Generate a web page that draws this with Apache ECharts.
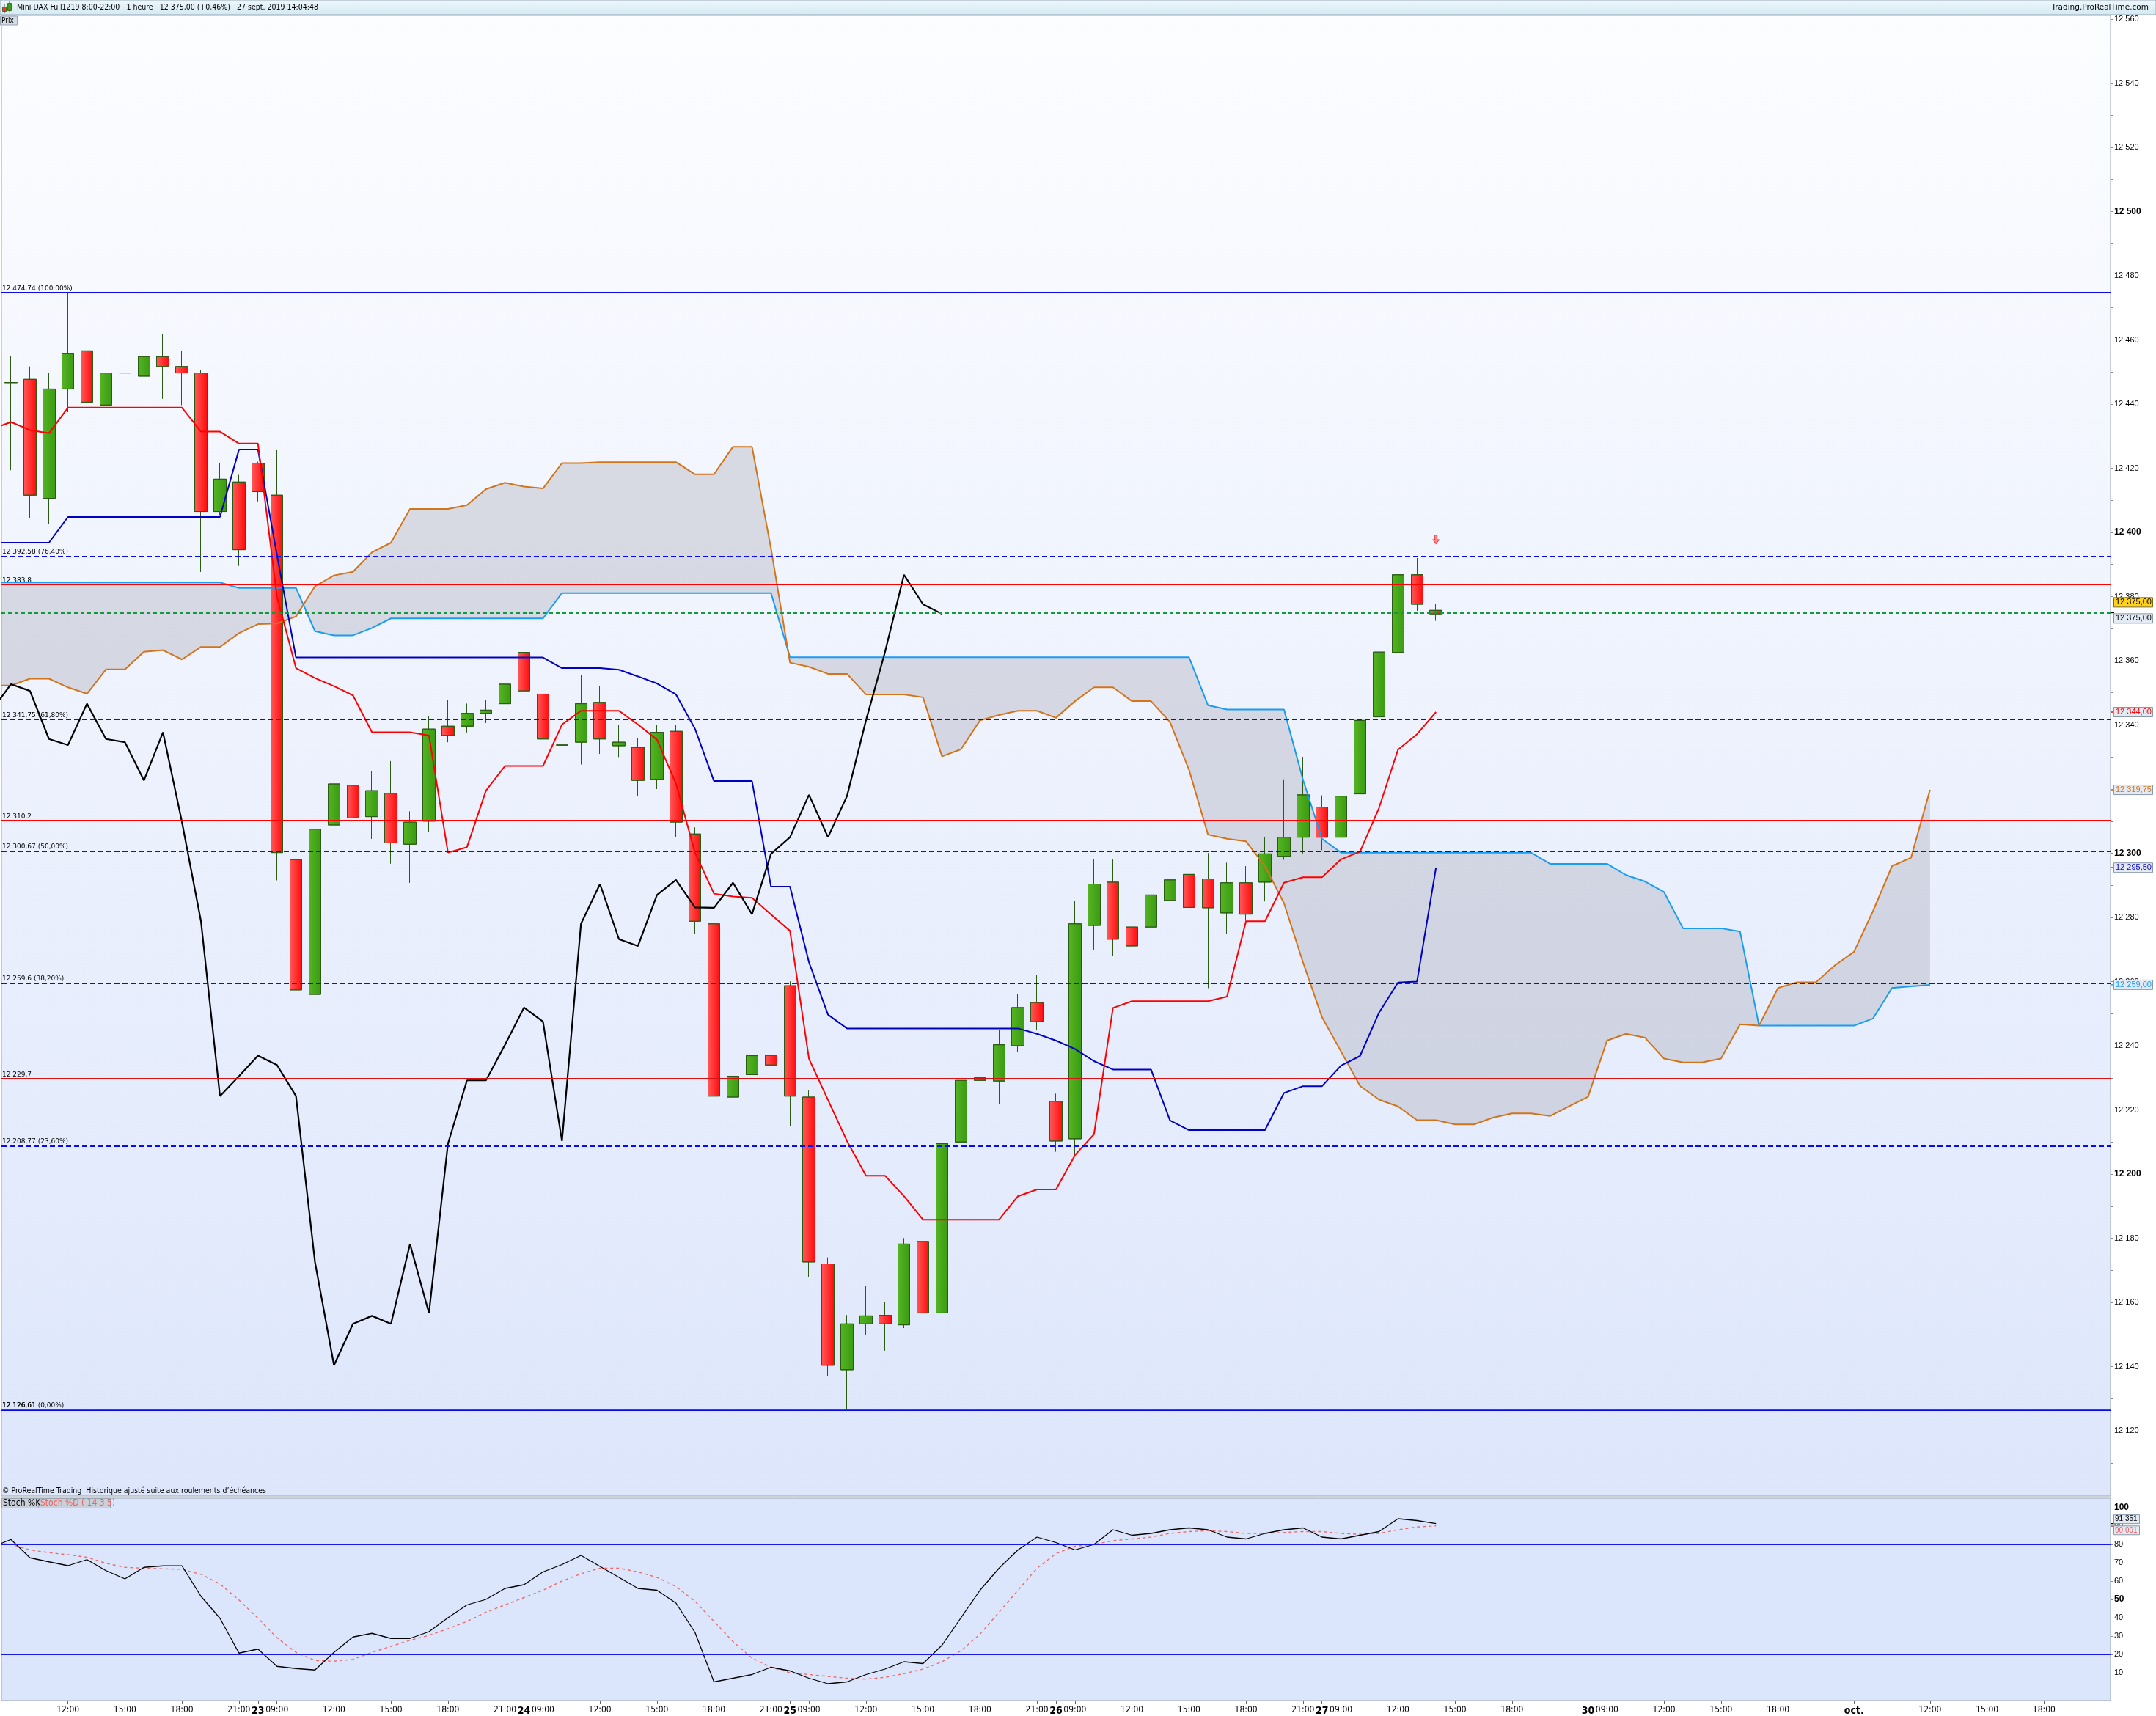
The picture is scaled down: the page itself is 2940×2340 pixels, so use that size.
<!DOCTYPE html>
<html><head><meta charset="utf-8">
<script src="https://cdn.jsdelivr.net/npm/echarts@6/dist/echarts.min.js"></script>
<style>html,body{margin:0;padding:0;background:#fff;}#c{width:2940px;height:2340px;}</style>
</head><body><div id="c"></div>
<script>
// ---------- time categories (1h bars, 8:00-21:00); first bar = 20 sept. 09:00 ----------
const dayNames = ['20','23','24','25','26','27','30','oct.'];
const categories = [], barDay = [], barHour = [];
dayNames.forEach(function (d, k) {
  for (let h = (k === 0 ? 9 : 8); h <= 21; h++) {
    categories.push(d + ' ' + (h < 10 ? '0' + h : h) + ':00');
    barDay.push(k); barHour.push(h);
  }
});

// ---------- candles: bar 0 = 20 sept. 09:00 ... bar 75 = 27 sept. 14:00 ----------
const open  = [12446.7,12447.7,12410.6,12444.7,12456.6,12439.7,12449.7,12448.7,12454.8,12451.7,
               12449.7,12406.5,12415.7,12421.6,12411.6,12298.0,12256.0,12308.8,12321.2,12311.4,
               12318.7,12302.8,12310.0,12339.6,12339.6,12343.6,12346.6,12362.6,12349.6,12333.7,
               12334.6,12347.0,12333.5,12333.0,12323.0,12338.0,12306.0,12278.0,12224.0,12231.0,
               12237.0,12258.7,12224.0,12172.0,12139.0,12153.3,12156.0,12153.0,12179.0,12156.7,
               12210.0,12230.0,12229.0,12240.0,12253.5,12222.7,12211.0,12277.5,12291.0,12277.0,
               12277.0,12285.3,12293.4,12292.0,12281.4,12290.8,12291.0,12299.0,12305.0,12314.4,
               12305.0,12318.5,12342.5,12362.6,12386.8,12375.7];
const close = [12446.7,12411.6,12444.7,12455.7,12440.6,12449.7,12449.7,12454.8,12451.7,12449.7,
               12406.5,12416.6,12394.6,12412.7,12300.2,12257.4,12307.5,12321.6,12311.0,12319.5,
               12303.2,12309.7,12338.7,12336.7,12343.6,12344.6,12352.7,12350.6,12335.6,12333.7,
               12346.6,12335.6,12334.6,12322.7,12337.7,12309.7,12278.8,12224.3,12230.5,12236.9,
               12234.0,12224.3,12172.6,12140.4,12153.3,12155.8,12153.3,12178.2,12156.7,12209.5,
               12229.2,12229.2,12240.3,12251.9,12247.5,12210.3,12278.0,12290.4,12273.2,12271.1,
               12287.0,12291.7,12283.1,12283.0,12290.8,12281.0,12299.8,12305.0,12318.2,12305.0,
               12317.8,12341.4,12362.7,12386.8,12377.6,12374.6];
const low   = [12419.4,12404.6,12402.6,12437.5,12432.5,12433.6,12441.7,12442.7,12441.7,12439.7,
               12387.7,12405.5,12389.6,12409.7,12291.6,12248.0,12254.0,12304.6,12310.0,12304.5,
               12296.8,12290.8,12306.7,12334.6,12337.7,12340.6,12337.7,12340.6,12331.6,12324.6,
               12327.7,12331.0,12330.0,12318.0,12320.0,12305.0,12275.0,12218.0,12218.0,12226.0,
               12215.0,12215.0,12168.0,12137.0,12126.6,12150.0,12145.0,12152.0,12150.0,12128.0,
               12200.0,12225.0,12222.0,12238.0,12245.0,12207.0,12206.0,12270.0,12268.0,12266.0,
               12270.0,12278.0,12268.0,12258.0,12275.0,12279.0,12285.0,12298.0,12300.0,12301.0,
               12304.0,12315.4,12335.5,12352.6,12375.6,12372.5];
const high  = [12454.9,12451.7,12449.7,12474.7,12464.7,12456.6,12457.9,12467.9,12461.7,12456.6,
               12450.7,12421.6,12417.9,12422.0,12425.8,12303.6,12313.0,12334.5,12328.7,12325.7,
               12328.7,12313.0,12342.7,12347.7,12346.6,12347.7,12356.6,12364.7,12359.7,12357.7,
               12355.6,12352.0,12340.0,12336.0,12340.0,12340.0,12308.0,12280.0,12240.0,12270.0,
               12258.0,12260.0,12226.0,12174.0,12156.0,12165.0,12160.0,12180.0,12190.0,12212.0,
               12236.0,12240.0,12245.0,12256.0,12262.0,12225.0,12285.0,12298.0,12298.0,12282.0,
               12293.0,12298.0,12299.0,12300.0,12297.0,12296.0,12305.0,12323.0,12330.0,12318.0,
               12335.0,12345.5,12371.6,12390.6,12392.0,12377.6];

// ---------- Ichimoku: element 0 = bar -1 (20 sept. 08:00, off the left edge) ----------
const tenkan = [12432.2,
                12434.4,12431.9,12430.9,12438.9,12438.9,12438.9,12438.9,12438.9,12438.9,12438.9,
                12431.4,12431.4,12427.7,12427.7,12380.0,12357.7,12354.6,12352.1,12349.2,12337.7,
                12337.7,12337.7,12336.7,12300.2,12301.9,12319.5,12327.2,12327.2,12327.2,12340.1,
                12344.4,12344.4,12344.4,12340.1,12335.4,12321.7,12300.2,12287.4,12286.5,12286.1,
                12280.9,12275.8,12235.9,12223.1,12210.3,12199.5,12199.5,12193.1,12185.8,12185.8,
                12185.8,12185.8,12185.8,12193.1,12195.2,12195.2,12205.9,12212.4,12251.8,12253.9,
                12253.9,12253.9,12253.9,12253.9,12255.3,12278.8,12278.8,12290.8,12292.5,12292.5,
                12298.1,12300.5,12314.1,12332.3,12337.1,12344.0];
const kijun  = [12396.8,
                12396.8,12396.8,12396.8,12404.8,12404.8,12404.8,12404.8,12404.8,12404.8,12404.8,
                12404.8,12404.8,12425.8,12425.8,12393.0,12361.0,12361.0,12361.0,12361.0,12361.0,
                12361.0,12361.0,12361.0,12361.0,12361.0,12361.0,12361.0,12361.0,12361.0,12357.7,
                12357.7,12357.7,12357.2,12355.1,12352.9,12349.5,12338.8,12322.5,12322.5,12322.5,
                12289.6,12289.6,12266.0,12249.7,12245.4,12245.4,12245.4,12245.4,12245.4,12245.4,
                12245.4,12245.4,12245.4,12245.4,12243.7,12241.6,12239.0,12235.2,12232.6,12232.6,
                12232.6,12216.7,12213.7,12213.7,12213.7,12213.7,12213.7,12225.3,12227.4,12227.4,
                12233.8,12236.8,12250.3,12259.7,12260.0,12295.5];
const senkouA = [12384.4,
                 12384.4,12384.4,12384.4,12384.4,12384.4,12384.4,12384.4,12384.4,12384.4,12384.4,
                 12384.4,12384.4,12382.7,12382.7,12382.7,12382.7,12369.2,12367.9,12367.9,12370.2,
                 12373.2,12373.2,12373.2,12373.2,12373.2,12373.2,12373.2,12373.2,12373.2,12381.1,
                 12381.1,12381.1,12381.1,12381.1,12381.1,12381.1,12381.1,12381.1,12381.1,12381.1,
                 12381.1,12361.1,12361.1,12361.1,12361.1,12361.1,12361.1,12361.1,12361.1,12361.1,
                 12361.1,12361.1,12361.1,12361.1,12361.1,12361.1,12361.1,12361.1,12361.1,12361.1,
                 12361.1,12361.1,12361.1,12346.1,12344.8,12344.8,12344.8,12344.8,12322.9,12304.5,
                 12300.2,12300.2,12300.2,12300.2,12300.2,12300.2,12300.2,12300.2,12300.2,12300.2,
                 12300.2,12296.7,12296.7,12296.7,12296.7,12293.2,12291.2,12287.9,12276.6,12276.6,
                 12276.6,12275.6,12246.3,12246.3,12246.3,12246.3,12246.3,12246.3,12248.5,12258.0,
                 12258.5,12259.0];
const senkouB = [12352.3,
                 12352.3,12354.4,12354.4,12351.7,12349.7,12357.3,12357.3,12362.8,12363.3,12360.4,
                 12364.3,12364.3,12368.6,12371.4,12371.6,12373.8,12383.2,12386.6,12387.7,12393.8,
                 12396.8,12407.3,12407.3,12407.3,12408.5,12413.5,12415.5,12414.3,12413.7,12421.6,
                 12421.6,12421.9,12421.9,12421.9,12421.9,12421.9,12418.1,12418.1,12426.7,12426.7,
                 12395.0,12359.4,12358.1,12355.9,12355.9,12349.5,12349.5,12349.5,12348.6,12330.2,
                 12332.4,12341.4,12343.1,12344.4,12344.4,12342.2,12347.4,12351.7,12351.7,12347.4,
                 12347.4,12340.9,12326.0,12305.8,12304.5,12303.7,12296.0,12284.4,12266.0,12248.9,
                 12238.2,12227.5,12223.2,12221.1,12216.8,12216.8,12215.5,12215.5,12217.6,12218.9,
                 12218.9,12218.1,12221.1,12224.1,12241.6,12243.7,12242.5,12236.0,12234.8,12234.8,
                 12236.0,12246.7,12246.3,12258.0,12259.8,12259.8,12265.1,12269.3,12282.0,12296.0,
                 12298.6,12319.75];

// ---------- Stochastic (14 3 5): element 0 = bar -1 ----------
const stochK = [78.5,
                82.7,72.7,70.5,68.4,71.7,65.7,61.2,67.5,68.3,68.3,51.7,39.7,20.7,22.9,13.5,12.3,11.5,21.1,29.5,31.5,
                28.7,28.7,32.4,40,47,50,56,58,65,69,74,68,62,56,55,48,32,5,7,9,
                13,11,7,4,5,9,12,16,15,25,40,55,67,77,84,81,77,80,88,85,
                86,88,89,88,84,83,86,88,89,84,83,85,87,94,93,91.351];
const stochD = [81,
                80,77,75.5,74.4,73,69.7,67.5,67,66.7,66.4,63.7,58.4,49.7,39.7,29.1,21.1,16.7,16.3,17.3,21.1,
                24.4,27.7,30.4,34,38,43,47,51,55,60,64,67,67,65,62,57,49,38,27,18,
                13,10,9,8,7,6.5,7.5,9.5,12,16,22,31,43,55,67,75,79,80,82,83,
                84,86,87,87.5,87,86,86,86.5,87,87,86,85.5,86,88,89.5,90.091];

// ---------- horizontal levels ----------
const fibLevels = [12474.74, 12392.58, 12341.75, 12300.67, 12259.6, 12208.77, 12126.61];
const fibTexts  = ['12 474,74 (100,00%)', '12 392,58 (76,40%)', '12 341,75 (61,80%)', '12 300,67 (50,00%)',
                   '12 259,6 (38,20%)', '12 208,77 (23,60%)', '12 126,61 (0,00%)'];
const redLevels = [12383.8, 12310.2, 12229.7, 12126.6];
const redTexts  = ['12 383,8', '12 310,2', '12 229,7', '12 126,6'];
const lastPrice = 12375;
const signalArrow = [[75, 12397.8]];

// right-axis tags
const priceTags = [
  {v: 12375,    t: '12 375,00', c: '#000000', bg: '#ffd21e', bd: '#7a6a20', dy: -14},
  {v: 12375,    t: '12 375,00', c: '#000000', bg: '#e4eaf4', bd: '#8898a8', dy: 8},
  {v: 12344,    t: '12 344,00', c: '#ff0000', bg: '#e4eaf4', bd: '#8898a8', dy: 0},
  {v: 12319.75, t: '12 319,75', c: '#d2741a', bg: '#e4eaf4', bd: '#8898a8', dy: 0},
  {v: 12295.5,  t: '12 295,50', c: '#0000c8', bg: '#e4eaf4', bd: '#8898a8', dy: 0},
  {v: 12259,    t: '12 259,00', c: '#1a9cf0', bg: '#e4eaf4', bd: '#8898a8', dy: 0}
];
const stochTags = [
  {v: 91.351, t: '91,351', c: '#000000', dy: -6},
  {v: 90.091, t: '90,091', c: '#f06060', dy: 6}
];

// ---------- draw arrays ----------
const N = categories.length;
function pad(arr) { const out = arr.slice(); while (out.length < N) out.push('-'); return out; }
function xy(arr) { return arr.map(function (v, k) { return [k - 1, v]; }); }   // element k -> bar k-1
const candleData = open.map(function (o, i) { return [o, close[i], low[i], high[i]]; });
const chikouXY = [];                       // close shifted 26 bars back, from bar -1
for (let b = -1; b + 26 < close.length; b++) chikouXY.push([b, close[b + 26]]);

function thou(v) { const s = String(Math.round(v)); return s.slice(0, s.length - 3) + ' ' + s.slice(-3); }
const yPriceLabels = [], yPriceTicks = [];
for (let v = 12120; v <= 12560; v += 20) yPriceLabels.push(v);
for (let v = 12110; v <= 12560; v += 10) yPriceTicks.push(v);
const stochLabels = [10,20,30,40,50,60,70,80,90,100];

function xLabel(i) {
  const h = barHour[i], d = barDay[i];
  if (h === 12 || h === 15 || h === 18) return h + ':00';
  if (h === 21 && d <= 4) return '21:00';
  if (h === 8 && d > 0) return '{b|' + dayNames[d] + '}';
  if (h === 9 && d >= 1 && d <= 6) return '09:00';
  return '';
}
const xLabels = categories.map(function (c, i) { return xLabel(i); });

// ---------- chart ----------
const chart = echarts.init(document.getElementById('c'), null, {renderer: 'canvas'});
const FONT = 'Liberation Sans, Arial, sans-serif';
const NARROW = 'Liberation Sans Narrow, DejaVu Sans Condensed, Arial, sans-serif';
const SMALL = 'DejaVu Sans, Verdana, sans-serif';

const levelMarks = [];
fibLevels.forEach(function (v, k) {
  const solid = (k === 0 || k === fibLevels.length - 1);
  levelMarks.push({yAxis: v,
    lineStyle: {color: '#0a0af0', width: k === fibLevels.length - 1 ? 3 : 2, type: solid ? 'solid' : [7, 4]},
    label: {show: true, position: 'insideStartTop', distance: [1, 1], formatter: fibTexts[k],
            color: '#000', fontSize: 9, fontFamily: SMALL}});
});
redLevels.forEach(function (v, k) {
  levelMarks.push({yAxis: v,
    lineStyle: {color: k === 2 ? '#d81010' : '#ff0000', width: 2, type: 'solid'},
    label: {show: true, position: 'insideStartTop', distance: [1, 1], formatter: redTexts[k],
            color: '#000', fontSize: 9, fontFamily: SMALL}});
});
levelMarks.push({yAxis: lastPrice, lineStyle: {color: '#129a3a', width: 2, type: [5, 4]}, label: {show: false}});

// Kumo (cloud) between the two Senkou spans, drawn through the axis scales
function renderCloud(params, api) {
  const pts = [];
  for (let k = 0; k < senkouA.length; k++) pts.push(api.coord([k - 1, senkouA[k]]));
  for (let k = senkouB.length - 1; k >= 0; k--) pts.push(api.coord([k - 1, senkouB[k]]));
  return {type: 'polygon', shape: {points: pts}, style: {fill: 'rgba(165,165,175,0.34)', stroke: null}};
}

const option = {
  animation: false,
  textStyle: {fontFamily: FONT},
  grid: [
    {left: 2, right: 62, top: 21, height: 2019, show: true, borderColor: '#9aa6b2', borderWidth: 1,
     backgroundColor: new echarts.graphic.LinearGradient(0, 0, 0, 1, [{offset: 0, color: '#fcfdff'}, {offset: 1, color: '#dde6fb'}])},
    {left: 2, right: 62, top: 2043, height: 276, show: true, borderColor: '#9aa6b2', borderWidth: 1,
     backgroundColor: '#dbe5fb'}
  ],
  xAxis: [
    {type: 'category', gridIndex: 0, data: categories, boundaryGap: true,
     axisLine: {show: false}, axisTick: {show: false}, axisLabel: {show: false}, splitLine: {show: false}},
    {type: 'category', gridIndex: 1, data: categories, boundaryGap: true, position: 'bottom',
     axisLine: {show: true, onZero: false, lineStyle: {color: '#9aa6b2'}},
     axisTick: {show: true, alignWithLabel: true, length: 4, lineStyle: {color: '#666'},
                interval: function (i) { return xLabels[i] !== ''; }},
     axisLabel: {show: true, margin: 7, fontSize: 12, fontFamily: NARROW, color: '#000',
                 interval: function (i) { return xLabels[i] !== ''; },
                 formatter: function (v, i) { return xLabels[i]; },
                 rich: {b: {fontSize: 14, fontWeight: 'bold', fontFamily: NARROW, color: '#000'}}},
     splitLine: {show: false}},
    {type: 'value', gridIndex: 0, min: -0.5, max: 110.5, show: false, axisLine: {onZero: false}, splitLine: {show: false}},
    {type: 'value', gridIndex: 1, min: -0.5, max: 110.5, show: false, axisLine: {onZero: false}, splitLine: {show: false}}
  ],
  yAxis: [
    {type: 'value', gridIndex: 0, position: 'right', min: 12099.66, max: 12561.14, scale: true,
     axisLine: {show: true, onZero: false, lineStyle: {color: '#9aa6b2'}},
     axisTick: {show: true, length: 4, lineStyle: {color: '#888'}, customValues: yPriceTicks},
     axisLabel: {show: true, margin: 5, fontSize: 11, color: '#000', fontFamily: FONT,
                 customValues: yPriceLabels,
                 formatter: function (v) { return (Math.round(v) % 100 === 0) ? '{b|' + thou(v) + '}' : thou(v); },
                 rich: {b: {fontSize: 12, fontWeight: 'bold', color: '#000', fontFamily: FONT}}},
     splitLine: {show: false}},
    {type: 'value', gridIndex: 1, position: 'right', min: -5.2, max: 105.2,
     axisLine: {show: true, onZero: false, lineStyle: {color: '#9aa6b2'}},
     axisTick: {show: true, length: 4, lineStyle: {color: '#888'}, customValues: stochLabels},
     axisLabel: {show: true, margin: 5, fontSize: 11, color: '#000', fontFamily: FONT,
                 customValues: stochLabels,
                 formatter: function (v) { return (v === 50 || v === 100) ? '{b|' + v + '}' : String(v); },
                 rich: {b: {fontSize: 12, fontWeight: 'bold', color: '#000', fontFamily: FONT}}},
     splitLine: {show: false}}
  ],
  series: [
    {name: 'Kumo', type: 'custom', xAxisIndex: 2, yAxisIndex: 0, data: [[0, 12300]], renderItem: renderCloud,
     clip: true, silent: true, z: 1},
    {name: 'candles', type: 'candlestick', xAxisIndex: 0, yAxisIndex: 0, data: pad(candleData), barWidth: 17, z: 2,
     itemStyle: {
       color: new echarts.graphic.LinearGradient(0, 0, 1, 0, [{offset: 0, color: '#55b522'}, {offset: 1, color: '#3a9a12'}]),
       color0: new echarts.graphic.LinearGradient(0, 0, 1, 0, [{offset: 0, color: '#ff5a5a'}, {offset: 1, color: '#ff0a0a'}]),
       borderColor: '#2c5c14', borderColor0: '#2c5c14', borderWidth: 1},
     markLine: {silent: true, symbol: ['none', 'none'], animation: false, z: 5, data: levelMarks}},
    {name: 'SSA', type: 'line', xAxisIndex: 2, yAxisIndex: 0, data: xy(senkouA), symbol: 'none',
     lineStyle: {color: '#1a9cf0', width: 2}, z: 3},
    {name: 'SSB', type: 'line', xAxisIndex: 2, yAxisIndex: 0, data: xy(senkouB), symbol: 'none',
     lineStyle: {color: '#d2741a', width: 2}, z: 3},
    {name: 'Kijun', type: 'line', xAxisIndex: 2, yAxisIndex: 0, data: xy(kijun), symbol: 'none',
     lineStyle: {color: '#0000c0', width: 2}, z: 4},
    {name: 'Tenkan', type: 'line', xAxisIndex: 2, yAxisIndex: 0, data: xy(tenkan), symbol: 'none',
     lineStyle: {color: '#ff0000', width: 2}, z: 4},
    {name: 'Chikou', type: 'line', xAxisIndex: 2, yAxisIndex: 0, data: chikouXY, symbol: 'none',
     lineStyle: {color: '#000000', width: 2.2}, z: 4},
    {name: 'arrow', type: 'scatter', xAxisIndex: 2, yAxisIndex: 0, data: signalArrow,
     symbol: 'path://M3,0 L7,0 L7,7 L10,7 L5,13 L0,7 L3,7 Z', symbolSize: [8, 12],
     itemStyle: {color: '#ff6a6a', borderColor: '#d01818', borderWidth: 1}, z: 6},
    {name: 'Stoch %K', type: 'line', xAxisIndex: 3, yAxisIndex: 1, data: xy(stochK), symbol: 'none',
     lineStyle: {color: '#000', width: 1.3}, z: 4,
     markLine: {silent: true, symbol: ['none', 'none'], label: {show: false},
                data: [{yAxis: 80}, {yAxis: 20}], lineStyle: {color: '#1a1ae6', width: 1.2, type: 'solid'}}},
    {name: 'Stoch %D', type: 'line', xAxisIndex: 3, yAxisIndex: 1, data: xy(stochD), symbol: 'none',
     lineStyle: {color: '#f06a6a', width: 1.4, type: [4, 4]}, z: 3}
  ]
};
chart.setOption(option);

// ---------- overlays positioned through the axes ----------
const g = [];
// header bar
g.push({type: 'rect', shape: {x: 0, y: 0, width: 2940, height: 20},
        style: {fill: new echarts.graphic.LinearGradient(0, 0, 0, 1, [{offset: 0, color: '#eef8fc'}, {offset: 1, color: '#d4e9f2'}]), stroke: '#97a7b7', lineWidth: 1}});
g.push({type: 'line', shape: {x1: 6, y1: 6, x2: 6, y2: 18}, style: {stroke: '#2c5c14', lineWidth: 1}});
g.push({type: 'rect', shape: {x: 3.5, y: 9.5, width: 5, height: 6}, style: {fill: '#ff3030', stroke: '#2c5c14', lineWidth: 0.8}});
g.push({type: 'line', shape: {x1: 13, y1: 2, x2: 13, y2: 17}, style: {stroke: '#2c5c14', lineWidth: 1}});
g.push({type: 'rect', shape: {x: 10.5, y: 4.5, width: 5, height: 10}, style: {fill: '#3aa012', stroke: '#2c5c14', lineWidth: 0.8}});
g.push({type: 'text', x: 23, y: 10.5, style: {text: 'Mini DAX Full1219 8:00-22:00   1 heure   12 375,00 (+0,46%)   27 sept. 2019 14:04:48',
        fill: '#000', font: '10.5px ' + NARROW, textVerticalAlign: 'middle'}});
g.push({type: 'text', x: 2930, y: 10.5, style: {text: 'Trading.ProRealTime.com', fill: '#000', font: '10.5px ' + SMALL,
        textAlign: 'right', textVerticalAlign: 'middle'}});
// Prix tab
g.push({type: 'rect', shape: {x: 0.5, y: 22, width: 23, height: 12}, style: {fill: '#d7dde6', stroke: '#98a4b0', lineWidth: 1}, z: 31});
g.push({type: 'text', x: 2, y: 28.5, style: {text: 'Prix', fill: '#000', font: '10px ' + NARROW, textVerticalAlign: 'middle'}, z: 32});
// footer note and stoch legend
g.push({type: 'text', x: 3, y: 2033, style: {text: '\u00a9 ProRealTime Trading  Historique ajust\u00e9 suite aux roulements d\u2019\u00e9ch\u00e9ances',
        fill: '#000', font: '10.5px ' + NARROW, textVerticalAlign: 'middle'}, z: 31});
g.push({type: 'rect', shape: {x: 2.5, y: 2043.5, width: 50, height: 13}, style: {fill: '#c9d0da', stroke: '#98a4b0', lineWidth: 1}, z: 31});
g.push({type: 'rect', shape: {x: 52.5, y: 2043.5, width: 98, height: 13}, style: {fill: '#c9d0da', stroke: '#98a4b0', lineWidth: 1}, z: 31});
g.push({type: 'text', x: 4, y: 2050, style: {text: 'Stoch %K', fill: '#000', font: '12px ' + NARROW, textVerticalAlign: 'middle'}, z: 32});
g.push({type: 'text', x: 55, y: 2050, style: {text: 'Stoch %D ( 14 3 5)', fill: '#f06060', font: '12px ' + NARROW, textVerticalAlign: 'middle'}, z: 32});

// price tags on the right axis
priceTags.forEach(function (p) {
  const y = chart.convertToPixel({yAxisIndex: 0}, p.v);
  g.push({type: 'line', shape: {x1: 2878, y1: y, x2: 2883, y2: y}, style: {stroke: p.c, lineWidth: 1.5}, z: 20});
  g.push({type: 'rect', shape: {x: 2882.5, y: y + p.dy - 6.5, width: 53, height: 13},
          style: {fill: p.bg, stroke: p.bd, lineWidth: 1}, z: 20});
  g.push({type: 'text', x: 2885, y: y + p.dy, style: {text: p.t, fill: p.c, font: '11px ' + FONT, textVerticalAlign: 'middle'}, z: 21});
});
stochTags.forEach(function (p) {
  const y = chart.convertToPixel({yAxisIndex: 1}, p.v);
  g.push({type: 'line', shape: {x1: 2878, y1: y, x2: 2883, y2: y}, style: {stroke: p.c, lineWidth: 1.2}, z: 20});
  g.push({type: 'rect', shape: {x: 2882.5, y: y + p.dy - 6, width: 35, height: 12},
          style: {fill: '#e4eaf4', stroke: '#8898a8', lineWidth: 1}, z: 20});
  g.push({type: 'text', x: 2884, y: y + p.dy, style: {text: p.t, fill: p.c, font: '10px ' + FONT, textVerticalAlign: 'middle'}, z: 21});
});
chart.setOption({graphic: g});
</script>
</body></html>
